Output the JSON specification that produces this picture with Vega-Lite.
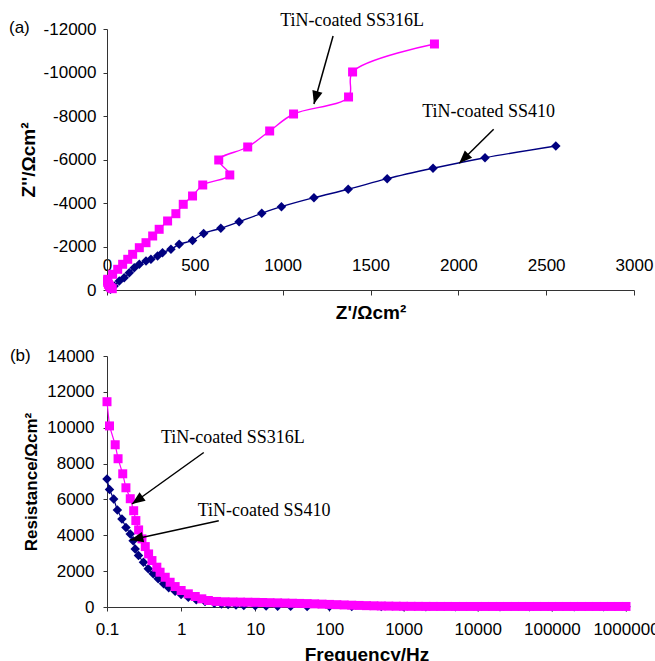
{
  "$schema": "https://vega.github.io/schema/vega-lite/v6.json",
  "padding": {"left": 8, "top": 11, "right": 0, "bottom": 0},
  "background": "white",
  "config": {
    "view": {"stroke": null},
    "font": "Liberation Sans",
    "axis": {
      "grid": false,
      "domainColor": "#333333",
      "tickColor": "#333333",
      "labelColor": "#000000",
      "labelFont": "Liberation Sans",
      "labelFontSize": 17,
      "labelOverlap": false,
      "labelBound": false,
      "labelSeparation": 0,
      "titleFont": "Liberation Sans",
      "titleFontSize": 19,
      "titleFontWeight": "bold",
      "titleColor": "#000000",
      "tickSize": 4
    }
  },
  "datasets": {
    "nyq": [
      {"s": "SS410", "zr": 20, "zi": -30},
      {"s": "SS410", "zr": 41, "zi": -184},
      {"s": "SS410", "zr": 70, "zi": -414},
      {"s": "SS410", "zr": 98, "zi": -566},
      {"s": "SS410", "zr": 127, "zi": -795},
      {"s": "SS410", "zr": 155, "zi": -1025},
      {"s": "SS410", "zr": 184, "zi": -1182},
      {"s": "SS410", "zr": 222, "zi": -1333},
      {"s": "SS410", "zr": 250, "zi": -1411},
      {"s": "SS410", "zr": 288, "zi": -1563},
      {"s": "SS410", "zr": 316, "zi": -1715},
      {"s": "SS410", "zr": 364, "zi": -1871},
      {"s": "SS410", "zr": 411, "zi": -2101},
      {"s": "SS410", "zr": 487, "zi": -2280},
      {"s": "SS410", "zr": 550, "zi": -2600},
      {"s": "SS410", "zr": 648, "zi": -2837},
      {"s": "SS410", "zr": 752, "zi": -3140},
      {"s": "SS410", "zr": 881, "zi": -3527},
      {"s": "SS410", "zr": 993, "zi": -3830},
      {"s": "SS410", "zr": 1178, "zi": -4244},
      {"s": "SS410", "zr": 1373, "zi": -4630},
      {"s": "SS410", "zr": 1595, "zi": -5118},
      {"s": "SS410", "zr": 1856, "zi": -5596},
      {"s": "SS410", "zr": 2152, "zi": -6083},
      {"s": "SS410", "zr": 2555, "zi": -6621},
      {"s": "SS316L", "zr": 30, "zi": -60},
      {"s": "SS316L", "zr": 22, "zi": -110},
      {"s": "SS316L", "zr": 14, "zi": -180},
      {"s": "SS316L", "zr": 8, "zi": -260},
      {"s": "SS316L", "zr": 4, "zi": -350},
      {"s": "SS316L", "zr": 3, "zi": -420},
      {"s": "SS316L", "zr": 4, "zi": -492},
      {"s": "SS316L", "zr": 32, "zi": -722},
      {"s": "SS316L", "zr": 61, "zi": -952},
      {"s": "SS316L", "zr": 89, "zi": -1182},
      {"s": "SS316L", "zr": 118, "zi": -1412},
      {"s": "SS316L", "zr": 146, "zi": -1641},
      {"s": "SS316L", "zr": 184, "zi": -1945},
      {"s": "SS316L", "zr": 222, "zi": -2175},
      {"s": "SS316L", "zr": 260, "zi": -2483},
      {"s": "SS316L", "zr": 297, "zi": -2791},
      {"s": "SS316L", "zr": 345, "zi": -3173},
      {"s": "SS316L", "zr": 392, "zi": -3508},
      {"s": "SS316L", "zr": 434, "zi": -3940},
      {"s": "SS316L", "zr": 487, "zi": -4322},
      {"s": "SS316L", "zr": 545, "zi": -4828},
      {"s": "SS316L", "zr": 699, "zi": -5288},
      {"s": "SS316L", "zr": 636, "zi": -5977},
      {"s": "SS316L", "zr": 801, "zi": -6575},
      {"s": "SS316L", "zr": 926, "zi": -7311},
      {"s": "SS316L", "zr": 1062, "zi": -8092},
      {"s": "SS316L", "zr": 1375, "zi": -8874},
      {"s": "SS316L", "zr": 1398, "zi": -10024},
      {"s": "SS316L", "zr": 1864, "zi": -11311}
    ],
    "bode": [
      {"s": "SS410", "f": 0.1, "r": 7140},
      {"s": "SS410", "f": 0.108, "r": 6550},
      {"s": "SS410", "f": 0.123, "r": 6020},
      {"s": "SS410", "f": 0.138, "r": 5410},
      {"s": "SS410", "f": 0.159, "r": 4910},
      {"s": "SS410", "f": 0.18, "r": 4440},
      {"s": "SS410", "f": 0.206, "r": 4075},
      {"s": "SS410", "f": 0.225, "r": 3700},
      {"s": "SS410", "f": 0.24, "r": 3240},
      {"s": "SS410", "f": 0.266, "r": 2870},
      {"s": "SS410", "f": 0.31, "r": 2490},
      {"s": "SS410", "f": 0.36, "r": 2130},
      {"s": "SS410", "f": 0.42, "r": 1850},
      {"s": "SS410", "f": 0.49, "r": 1570},
      {"s": "SS410", "f": 0.58, "r": 1290},
      {"s": "SS410", "f": 0.68, "r": 1070},
      {"s": "SS410", "f": 0.83, "r": 880},
      {"s": "SS410", "f": 1.0, "r": 700},
      {"s": "SS410", "f": 1.25, "r": 546},
      {"s": "SS410", "f": 1.6, "r": 400},
      {"s": "SS410", "f": 2.1, "r": 306},
      {"s": "SS410", "f": 2.8, "r": 212},
      {"s": "SS410", "f": 3.5, "r": 170},
      {"s": "SS410", "f": 4.3, "r": 139},
      {"s": "SS410", "f": 5.5, "r": 110},
      {"s": "SS410", "f": 7, "r": 90},
      {"s": "SS410", "f": 10, "r": 70},
      {"s": "SS410", "f": 14, "r": 55},
      {"s": "SS410", "f": 20, "r": 45},
      {"s": "SS410", "f": 30, "r": 38},
      {"s": "SS410", "f": 50, "r": 32},
      {"s": "SS410", "f": 100, "r": 28},
      {"s": "SS410", "f": 200, "r": 25},
      {"s": "SS410", "f": 500, "r": 22},
      {"s": "SS410", "f": 1000, "r": 20},
      {"s": "SS410", "f": 2000, "r": 20},
      {"s": "SS410", "f": 5000, "r": 20},
      {"s": "SS410", "f": 10000, "r": 20},
      {"s": "SS410", "f": 20000, "r": 20},
      {"s": "SS410", "f": 50000, "r": 20},
      {"s": "SS410", "f": 100000, "r": 20},
      {"s": "SS410", "f": 200000, "r": 20},
      {"s": "SS410", "f": 500000, "r": 20},
      {"s": "SS410", "f": 1000000, "r": 20},
      {"s": "SS316L", "f": 0.1, "r": 11450},
      {"s": "SS316L", "f": 0.108, "r": 10100},
      {"s": "SS316L", "f": 0.129, "r": 9050},
      {"s": "SS316L", "f": 0.141, "r": 8270},
      {"s": "SS316L", "f": 0.163, "r": 7430},
      {"s": "SS316L", "f": 0.18, "r": 6650},
      {"s": "SS316L", "f": 0.206, "r": 6040},
      {"s": "SS316L", "f": 0.229, "r": 5370},
      {"s": "SS316L", "f": 0.245, "r": 4820},
      {"s": "SS316L", "f": 0.267, "r": 4300},
      {"s": "SS316L", "f": 0.296, "r": 3800},
      {"s": "SS316L", "f": 0.328, "r": 3370},
      {"s": "SS316L", "f": 0.364, "r": 2960},
      {"s": "SS316L", "f": 0.404, "r": 2590},
      {"s": "SS316L", "f": 0.47, "r": 2220},
      {"s": "SS316L", "f": 0.52, "r": 1940},
      {"s": "SS316L", "f": 0.61, "r": 1660},
      {"s": "SS316L", "f": 0.71, "r": 1380},
      {"s": "SS316L", "f": 0.83, "r": 1140},
      {"s": "SS316L", "f": 1.0, "r": 920},
      {"s": "SS316L", "f": 1.25, "r": 735},
      {"s": "SS316L", "f": 1.55, "r": 585},
      {"s": "SS316L", "f": 1.9, "r": 456},
      {"s": "SS316L", "f": 2.33, "r": 362},
      {"s": "SS316L", "f": 3.0, "r": 310},
      {"s": "SS316L", "f": 3.9, "r": 290},
      {"s": "SS316L", "f": 5.0, "r": 280},
      {"s": "SS316L", "f": 6.31, "r": 272},
      {"s": "SS316L", "f": 7.94, "r": 266},
      {"s": "SS316L", "f": 10, "r": 260},
      {"s": "SS316L", "f": 12.6, "r": 250},
      {"s": "SS316L", "f": 15.8, "r": 240},
      {"s": "SS316L", "f": 20, "r": 230},
      {"s": "SS316L", "f": 25.1, "r": 220},
      {"s": "SS316L", "f": 31.6, "r": 210},
      {"s": "SS316L", "f": 39.8, "r": 200},
      {"s": "SS316L", "f": 50.1, "r": 190},
      {"s": "SS316L", "f": 63.1, "r": 175},
      {"s": "SS316L", "f": 79.4, "r": 160},
      {"s": "SS316L", "f": 100, "r": 145},
      {"s": "SS316L", "f": 126, "r": 130},
      {"s": "SS316L", "f": 158, "r": 115},
      {"s": "SS316L", "f": 200, "r": 100},
      {"s": "SS316L", "f": 251, "r": 88},
      {"s": "SS316L", "f": 316, "r": 76},
      {"s": "SS316L", "f": 398, "r": 66},
      {"s": "SS316L", "f": 501, "r": 57},
      {"s": "SS316L", "f": 631, "r": 50},
      {"s": "SS316L", "f": 794, "r": 44},
      {"s": "SS316L", "f": 1000, "r": 40},
      {"s": "SS316L", "f": 1260, "r": 37},
      {"s": "SS316L", "f": 1580, "r": 35},
      {"s": "SS316L", "f": 2000, "r": 33},
      {"s": "SS316L", "f": 2510, "r": 32},
      {"s": "SS316L", "f": 3160, "r": 31},
      {"s": "SS316L", "f": 3980, "r": 31},
      {"s": "SS316L", "f": 5010, "r": 30},
      {"s": "SS316L", "f": 6310, "r": 30},
      {"s": "SS316L", "f": 7940, "r": 30},
      {"s": "SS316L", "f": 10000, "r": 30},
      {"s": "SS316L", "f": 12600, "r": 30},
      {"s": "SS316L", "f": 15800, "r": 30},
      {"s": "SS316L", "f": 20000, "r": 30},
      {"s": "SS316L", "f": 25100, "r": 30},
      {"s": "SS316L", "f": 31600, "r": 30},
      {"s": "SS316L", "f": 39800, "r": 30},
      {"s": "SS316L", "f": 50100, "r": 30},
      {"s": "SS316L", "f": 63100, "r": 30},
      {"s": "SS316L", "f": 79400, "r": 30},
      {"s": "SS316L", "f": 100000, "r": 30},
      {"s": "SS316L", "f": 126000, "r": 30},
      {"s": "SS316L", "f": 158000, "r": 30},
      {"s": "SS316L", "f": 200000, "r": 30},
      {"s": "SS316L", "f": 251000, "r": 30},
      {"s": "SS316L", "f": 316000, "r": 30},
      {"s": "SS316L", "f": 398000, "r": 30},
      {"s": "SS316L", "f": 501000, "r": 30},
      {"s": "SS316L", "f": 631000, "r": 30},
      {"s": "SS316L", "f": 794000, "r": 30},
      {"s": "SS316L", "f": 1000000, "r": 30}
    ],
    "notesA": [
      {"t": "TiN-coated SS316L", "x": 1395, "y": -12368},
      {"t": "TiN-coated SS410", "x": 2172, "y": -8184}
    ],
    "arrowsA": [
      {"id": 1, "x": 1287, "y": -11678, "x2": 1178, "y2": -8552},
      {"id": 2, "x": 2201, "y": -7389, "x2": 2005, "y2": -5825}
    ],
    "tagA": [{"t": "(a)", "x": -558, "y": -12046}],
    "notesB": [
      {"t": "TiN-coated SS316L", "x": 4.99, "y": 9408},
      {"t": "TiN-coated SS410", "x": 13.15, "y": 5372}
    ],
    "arrowsB": [
      {"id": 1, "x": 2.018, "y": 8617, "x2": 0.2175, "y2": 5745},
      {"id": 2, "x": 3.217, "y": 4815, "x2": 0.2063, "y2": 3741}
    ],
    "tagB": [{"t": "(b)", "x": 0.00491, "y": 14000}]
  },
  "resolve": {"scale": {"x": "independent", "y": "independent"}},
  "bounds": "flush",
  "spacing": 66,
  "vconcat": [
    {
      "width": 527,
      "height": 261,
      "layer": [
        {
          "data": {"name": "nyq"},
          "mark": {"type": "line", "interpolate": "catmull-rom", "strokeWidth": 1.4},
          "encoding": {
            "x": {
              "field": "zr", "type": "quantitative",
              "scale": {"domain": [0, 3000], "nice": false},
              "axis": {
                "title": "Z'/Ωcm²",
                "values": [0, 500, 1000, 1500, 2000, 2500, 3000],
                "labelExpr": "datum.value + ''",
                "labelOverlap": false,
                "tickSize": 5,
                "labelPadding": -38,
                "titlePadding": 8,
                "labelFlush": false
              }
            },
            "y": {
              "field": "zi", "type": "quantitative",
              "scale": {"domain": [-12000, 0], "reverse": true, "nice": false},
              "axis": {
                "title": "Z''/Ωcm²",
                "values": [-12000, -10000, -8000, -6000, -4000, -2000, 0],
                "labelExpr": "datum.value + ''",
                "labelOverlap": false,
                "labelPadding": 7,
                "titlePadding": 5
              }
            },
            "color": {
              "field": "s", "type": "nominal",
              "scale": {"domain": ["SS316L", "SS410"], "range": ["#ff00ff", "#000080"]},
              "legend": null
            },
            "order": {"value": null}
          }
        },
        {
          "data": {"name": "nyq"},
          "mark": {"type": "point", "filled": true, "opacity": 1},
          "encoding": {
            "x": {"field": "zr", "type": "quantitative"},
            "y": {"field": "zi", "type": "quantitative"},
            "color": {"field": "s", "type": "nominal", "legend": null},
            "shape": {
              "field": "s", "type": "nominal",
              "scale": {"domain": ["SS316L", "SS410"], "range": ["square", "diamond"]},
              "legend": null
            },
            "size": {
              "field": "s", "type": "nominal",
              "scale": {"domain": ["SS316L", "SS410"], "range": [81, 90]},
              "legend": null
            }
          }
        },
        {
          "data": {"name": "arrowsA"},
          "mark": {"type": "rule", "color": "black", "strokeWidth": 1.5},
          "encoding": {
            "x": {"field": "x", "type": "quantitative"},
            "y": {"field": "y", "type": "quantitative"},
            "x2": {"field": "x2"},
            "y2": {"field": "y2"}
          }
        },
        {
          "data": {"name": "arrowsA"},
          "transform": [{"filter": "datum.id == 1"}],
          "mark": {"type": "point", "shape": "M0,0L-0.4,1L0.4,1Z", "filled": true, "opacity": 1, "color": "black", "size": 676, "angle": 195.6},
          "encoding": {
            "x": {"field": "x2", "type": "quantitative"},
            "y": {"field": "y2", "type": "quantitative"}
          }
        },
        {
          "data": {"name": "arrowsA"},
          "transform": [{"filter": "datum.id == 2"}],
          "mark": {"type": "point", "shape": "M0,0L-0.4,1L0.4,1Z", "filled": true, "opacity": 1, "color": "black", "size": 676, "angle": 225.3},
          "encoding": {
            "x": {"field": "x2", "type": "quantitative"},
            "y": {"field": "y2", "type": "quantitative"}
          }
        },
        {
          "data": {"name": "notesA"},
          "mark": {"type": "text", "font": "Liberation Serif", "fontSize": 18, "color": "black", "align": "center", "baseline": "middle"},
          "encoding": {
            "x": {"field": "x", "type": "quantitative"},
            "y": {"field": "y", "type": "quantitative"},
            "text": {"field": "t"}
          }
        },
        {
          "data": {"name": "tagA"},
          "mark": {"type": "text", "font": "Liberation Sans", "fontSize": 17, "color": "black", "align": "left", "baseline": "middle"},
          "encoding": {
            "x": {"field": "x", "type": "quantitative"},
            "y": {"field": "y", "type": "quantitative"},
            "text": {"field": "t"}
          }
        }
      ]
    },
    {
      "width": 519,
      "height": 251,
      "layer": [
        {
          "data": {"name": "bode"},
          "mark": {"type": "line", "strokeWidth": 1.2},
          "encoding": {
            "x": {
              "field": "f", "type": "quantitative",
              "scale": {"type": "log", "domain": [0.1, 1000000], "nice": false},
              "axis": {
                "title": "Frequency/Hz",
                "values": [0.1, 1, 10, 100, 1000, 10000, 100000, 1000000],
                "format": "~f",
                "labelOverlap": false,
                "labelPadding": 10,
                "titlePadding": 8,
                "labelFlush": false
              }
            },
            "y": {
              "field": "r", "type": "quantitative",
              "scale": {"domain": [0, 14000], "nice": false},
              "axis": {
                "title": "Resistance/Ωcm²",
                "titleFontSize": 17,
                "values": [0, 2000, 4000, 6000, 8000, 10000, 12000, 14000],
                "tickCount": 8,
                "labelExpr": "datum.value + ''",
                "labelOverlap": false,
                "labelBound": false,
                "labelSeparation": 0,
                "labelPadding": 9,
                "titlePadding": 6
              }
            },
            "color": {
              "field": "s", "type": "nominal",
              "scale": {"domain": ["SS316L", "SS410"], "range": ["#ff00ff", "#000080"]},
              "legend": null
            },
            "order": {"value": null}
          }
        },
        {
          "data": {"name": "bode"},
          "mark": {"type": "point", "filled": true, "opacity": 1},
          "encoding": {
            "x": {"field": "f", "type": "quantitative"},
            "y": {
              "field": "r", "type": "quantitative",
              "axis": {
                "title": "Resistance/Ωcm²",
                "titleFontSize": 17,
                "values": [0, 2000, 4000, 6000, 8000, 10000, 12000, 14000],
                "tickCount": 8,
                "labelExpr": "datum.value + ''",
                "labelOverlap": false,
                "labelBound": false,
                "labelSeparation": 0,
                "labelPadding": 9,
                "titlePadding": 6
              }
            },
            "color": {"field": "s", "type": "nominal", "legend": null},
            "shape": {
              "field": "s", "type": "nominal",
              "scale": {"domain": ["SS316L", "SS410"], "range": ["square", "diamond"]},
              "legend": null
            },
            "size": {
              "field": "s", "type": "nominal",
              "scale": {"domain": ["SS316L", "SS410"], "range": [72, 72]},
              "legend": null
            }
          }
        },
        {
          "data": {"name": "arrowsB"},
          "mark": {"type": "rule", "color": "black", "strokeWidth": 1.5},
          "encoding": {
            "x": {"field": "x", "type": "quantitative"},
            "y": {"field": "y", "type": "quantitative"},
            "x2": {"field": "x2"},
            "y2": {"field": "y2"}
          }
        },
        {
          "data": {"name": "arrowsB"},
          "transform": [{"filter": "datum.id == 1"}],
          "mark": {"type": "point", "shape": "M0,0L-0.4,1L0.4,1Z", "filled": true, "opacity": 1, "color": "black", "size": 676, "angle": 234.3},
          "encoding": {
            "x": {"field": "x2", "type": "quantitative"},
            "y": {"field": "y2", "type": "quantitative"}
          }
        },
        {
          "data": {"name": "arrowsB"},
          "transform": [{"filter": "datum.id == 2"}],
          "mark": {"type": "point", "shape": "M0,0L-0.4,1L0.4,1Z", "filled": true, "opacity": 1, "color": "black", "size": 676, "angle": 257.7},
          "encoding": {
            "x": {"field": "x2", "type": "quantitative"},
            "y": {"field": "y2", "type": "quantitative"}
          }
        },
        {
          "data": {"name": "notesB"},
          "mark": {"type": "text", "font": "Liberation Serif", "fontSize": 18, "color": "black", "align": "center", "baseline": "middle"},
          "encoding": {
            "x": {"field": "x", "type": "quantitative"},
            "y": {"field": "y", "type": "quantitative"},
            "text": {"field": "t"}
          }
        },
        {
          "data": {"name": "tagB"},
          "mark": {"type": "text", "font": "Liberation Sans", "fontSize": 17, "color": "black", "align": "left", "baseline": "middle"},
          "encoding": {
            "x": {"field": "x", "type": "quantitative"},
            "y": {"field": "y", "type": "quantitative"},
            "text": {"field": "t"}
          }
        }
      ]
    }
  ]
}
